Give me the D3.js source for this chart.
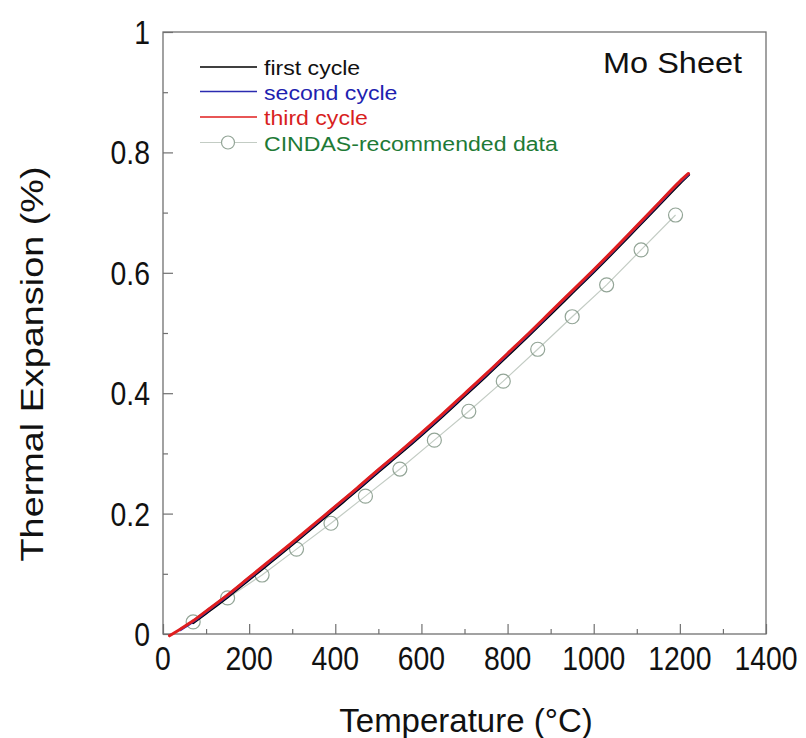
<!DOCTYPE html>
<html>
<head>
<meta charset="utf-8">
<script src="https://cdn.jsdelivr.net/npm/d3@7"></script>
<style>
  html, body { margin: 0; padding: 0; background: #ffffff; }
  svg { display: block; }
  text { font-family: "Liberation Sans", Arial, sans-serif; }
</style>
</head>
<body>
<svg id="chart" width="806" height="738"></svg>
<script>
// ---------------- data ----------------
const temps = [15, 40, 70, 100, 150, 200, 250, 300, 350, 400, 450, 500, 550, 600, 650, 700, 750, 800, 850, 900, 950, 1000, 1050, 1100, 1150, 1200, 1220];
const firstCycle  = [null, null, 0.019, 0.035, 0.062, 0.091, 0.120, 0.149, 0.179, 0.209, 0.239, 0.270, 0.300, 0.331, 0.363, 0.396, 0.429, 0.463, 0.497, 0.532, 0.567, 0.602, 0.638, 0.675, 0.712, 0.749, 0.763];
const secondCycle = [null, 0.007, 0.021, 0.037, 0.064, 0.093, 0.122, 0.151, 0.181, 0.211, 0.241, 0.272, 0.302, 0.333, 0.365, 0.398, 0.431, 0.465, 0.499, 0.534, 0.569, 0.604, 0.640, 0.677, 0.714, 0.751, 0.764];
const thirdCycle  = [-0.003, 0.008, 0.022, 0.038, 0.065, 0.094, 0.123, 0.152, 0.182, 0.212, 0.242, 0.273, 0.303, 0.334, 0.366, 0.399, 0.432, 0.466, 0.500, 0.535, 0.570, 0.605, 0.641, 0.678, 0.715, 0.752, 0.765];

const cindasTemps  = [70, 150, 230, 310, 390, 470, 550, 630, 710, 790, 870, 950, 1030, 1110, 1190];
const cindasValues = [0.020, 0.060, 0.098, 0.141, 0.184, 0.229, 0.274, 0.322, 0.370, 0.420, 0.473, 0.527, 0.580, 0.638, 0.696];

const xMajorTicks = [0, 200, 400, 600, 800, 1000, 1200, 1400];
const xMinorTicks = [100, 300, 500, 700, 900, 1100, 1300];
const yMajorTicks = [0, 0.2, 0.4, 0.6, 0.8, 1];
const yTickLabels = ["0", "0.2", "0.4", "0.6", "0.8", "1"];
const yMinorTicks = [0.1, 0.3, 0.5, 0.7, 0.9];

const legendLabels = ["first cycle", "second cycle", "third cycle", "CINDAS-recommended data"];
const xTitle = "Temperature (°C)";
const yTitle = "Thermal Expansion (%)";
const panelTitle = "Mo Sheet";

// ---------------- layout ----------------
const L = 163, R = 766, T = 32, B = 634;
const svg = d3.select("#chart");
const x = d3.scaleLinear().domain([0, 1400]).range([L, R]);
const y = d3.scaleLinear().domain([0, 1]).range([B, T]);

function stext(parent, px, py, str, size, anchor, sx, fill, rot) {
  return parent.append("text")
    .attr("transform", `translate(${px},${py})` + (rot ? ` rotate(${rot})` : "") + ` scale(${sx},1)`)
    .attr("text-anchor", anchor)
    .attr("font-size", size)
    .attr("fill", fill || "#111")
    .text(str);
}

// frame
svg.append("rect")
  .attr("x", L).attr("y", T).attr("width", R - L).attr("height", B - T)
  .attr("fill", "none").attr("stroke", "#707070").attr("stroke-width", 1.3);

// axes (ticks inward)
function styleAxis(g) {
  g.select(".domain").remove();
  g.selectAll(".tick line").attr("stroke", "#707070").attr("stroke-width", 1.2);
  g.selectAll(".tick text").remove();
}
svg.append("g").attr("transform", `translate(0,${B})`)
  .call(d3.axisBottom(x).tickValues(xMajorTicks).tickSize(-10).tickFormat(""))
  .call(styleAxis);
svg.append("g").attr("transform", `translate(0,${B})`)
  .call(d3.axisBottom(x).tickValues(xMinorTicks).tickSize(-5).tickFormat(""))
  .call(styleAxis);
svg.append("g").attr("transform", `translate(${L},0)`)
  .call(d3.axisLeft(y).tickValues(yMajorTicks).tickSize(-10).tickFormat(""))
  .call(styleAxis);
svg.append("g").attr("transform", `translate(${L},0)`)
  .call(d3.axisLeft(y).tickValues(yMinorTicks).tickSize(-5).tickFormat(""))
  .call(styleAxis);

// tick labels (tall, slightly condensed lettering)
const TS = 33, TSX = 0.86;
const xl = svg.append("g");
xMajorTicks.forEach(d => stext(xl, x(d), B + 36, String(d), TS, "middle", TSX));
const yl = svg.append("g");
yMajorTicks.forEach((d, i) => stext(yl, L - 13, y(d) + 12, yTickLabels[i], TS, "end", TSX));

// axis titles
stext(svg, 466, 732, xTitle, 33, "middle", 1.0);
stext(svg, 43, 364, yTitle, 31, "middle", 1.22, "#111", -90);

// panel title
stext(svg, 742, 73, panelTitle, 29, "end", 1.12);

// ---------------- series ----------------
const plot = svg.append("g");

// CINDAS
const cindas = cindasTemps.map((t, i) => ({ t, v: cindasValues[i] }));
plot.append("path")
  .datum(cindas)
  .attr("fill", "none").attr("stroke", "#c3ccc4").attr("stroke-width", 1.2)
  .attr("d", d3.line().x(d => x(d.t)).y(d => y(d.v)));
plot.selectAll("circle.cindas").data(cindas).enter().append("circle")
  .attr("class", "cindas")
  .attr("cx", d => x(d.t)).attr("cy", d => y(d.v)).attr("r", 7)
  .attr("fill", "none").attr("stroke", "#93a597").attr("stroke-width", 1.2);

function cycleLine(values, color, width) {
  const pts = temps.map((t, i) => ({ t, v: values[i] }));
  plot.append("path")
    .datum(pts)
    .attr("fill", "none").attr("stroke", color).attr("stroke-width", width)
    .attr("stroke-linecap", "round").attr("stroke-linejoin", "round")
    .attr("d", d3.line().defined(d => d.v !== null).curve(d3.curveMonotoneX)
      .x(d => x(d.t)).y(d => y(d.v)));
}
cycleLine(firstCycle, "#000000", 3.2);
cycleLine(secondCycle, "#2b2bb0", 3);
cycleLine(thirdCycle, "#e01e1e", 3);

// ---------------- legend ----------------
const lg = svg.append("g");
const legColors = ["#000000", "#2b2bb0", "#e01e1e", "#c3ccc4"];
const legText = ["#111111", "#1f1fb0", "#d81f1f", "#1e7a36"];
const legY = [67, 91.5, 117, 142.5];
legendLabels.forEach((lab, i) => {
  lg.append("line")
    .attr("x1", 200).attr("x2", 257).attr("y1", legY[i]).attr("y2", legY[i])
    .attr("stroke", legColors[i]).attr("stroke-width", i < 3 ? 1.6 : 1.2);
  if (i === 3) {
    lg.append("circle").attr("cx", 228).attr("cy", legY[i]).attr("r", 6.5)
      .attr("fill", "#fff").attr("stroke", "#93a597").attr("stroke-width", 1.2);
  }
  stext(lg, 264, legY[i] + 8, lab, 21, "start", 1.1, legText[i]);
});
</script>
</body>
</html>
